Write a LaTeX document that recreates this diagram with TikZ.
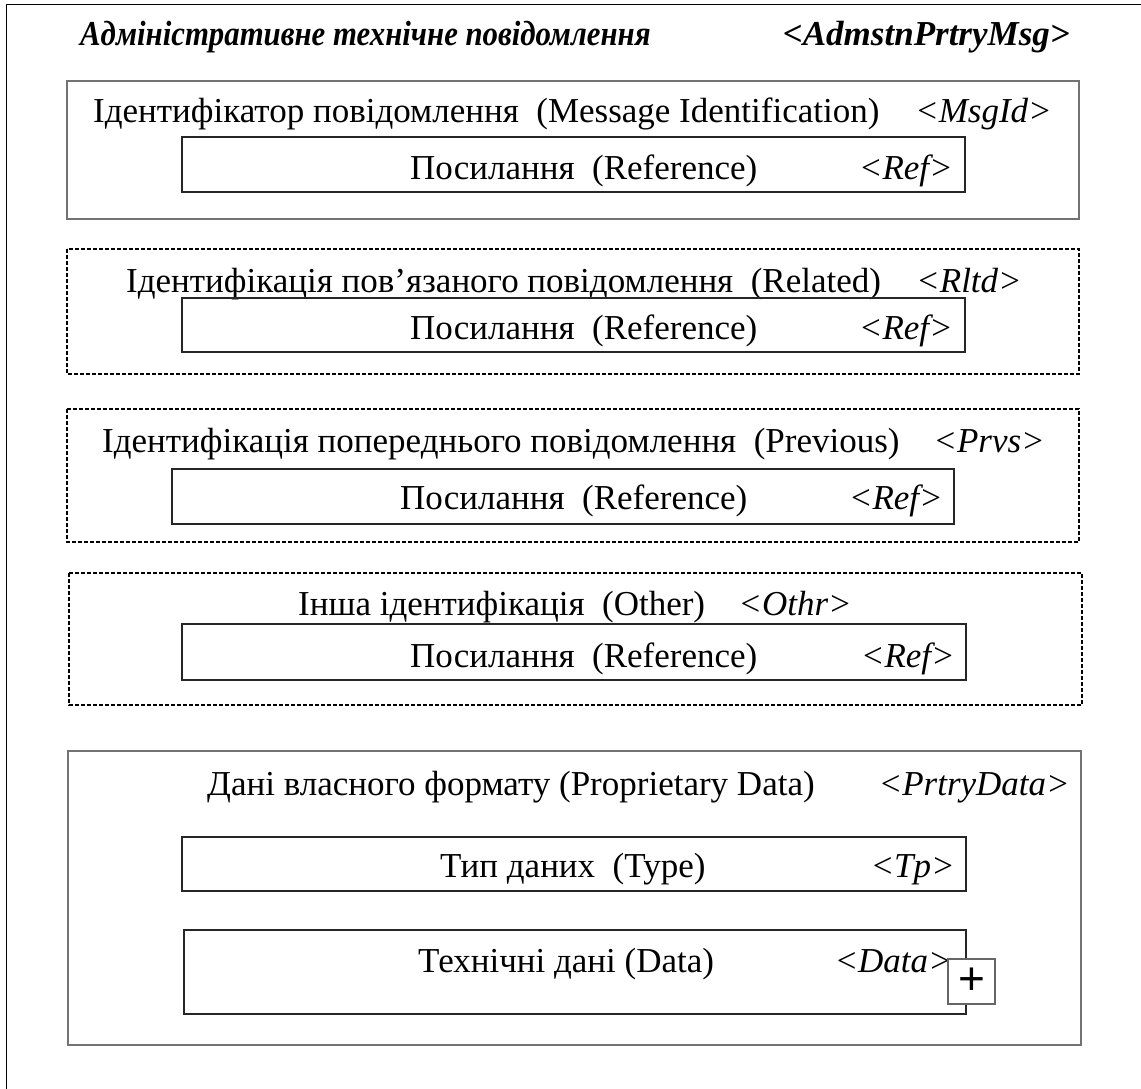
\documentclass[tikz,border=0pt]{standalone}
\usepackage{fontspec}
\setmainfont{Liberation Serif}
\newfontfamily\plusfont{Liberation Sans}
\begin{document}
\begin{tikzpicture}[x=1pt,y=-1pt,
  txt/.style={inner sep=0pt,font=\fontsize{35}{40}\selectfont},
  tag/.style={inner sep=0pt,font=\fontsize{35}{40}\selectfont\itshape},
  ttl/.style={inner sep=0pt,font=\fontsize{35}{40}\selectfont\bfseries\itshape},
  grp/.style={draw=black!55,line width=1.3pt},
  opt/.style={draw=black,line width=1.1pt,dash pattern=on 4pt off 2pt},
  elem/.style={draw=black!85,line width=1.1pt},
  plusbox/.style={draw=black!60,line width=1.1pt,fill=white}]
\useasboundingbox (0,0) rectangle (1141,1089);
\clip (0,0) rectangle (1141,1089);
\fill[white] (0,0) rectangle (1141,1089);
% outer frame
\draw[black,line width=1.2pt] (6.5,4.5) rectangle (1160,1110);
\node[ttl,anchor=base west] (title) at (80,46) {\scalebox{0.88}[1]{Адміністративне технічне повідомлення}};
\node[ttl,anchor=base east] (titletag) at (1070,46) {<AdmstnPrtryMsg>};
% box 1
\draw[grp] (67,81) rectangle (1079,219);
\node[txt,anchor=base west] (h1) at (93,123) {Ідентифікатор повідомлення\ \ (Message Identification)};
\node[tag,anchor=base east] (t1) at (1052,123) {<MsgId>};
\draw[elem] (182,137) rectangle (965,192);
\node[txt,anchor=base west] (r1) at (410,179) {Посилання\ \ (Reference)};
\node[tag,anchor=base east] (rt1) at (953,179) {<Ref>};
% box 2
\draw[opt] (67,249) rectangle (1079,374);
\node[txt,anchor=base west] (h2) at (126,292) {Ідентифікація пов’язаного повідомлення\ \ (Related)};
\node[tag,anchor=base east] (t2) at (1022,292) {<Rltd>};
\draw[elem] (182,298) rectangle (965,352);
\node[txt,anchor=base west] (r2) at (410,339) {Посилання\ \ (Reference)};
\node[tag,anchor=base east] (rt2) at (953,339) {<Ref>};
% box 3
\draw[opt] (67,409) rectangle (1079,542);
\node[txt,anchor=base west] (h3) at (102,452) {Ідентифікація попереднього повідомлення\ \ (Previous)};
\node[tag,anchor=base east] (t3) at (1045,452) {<Prvs>};
\draw[elem] (172,469) rectangle (954,524);
\node[txt,anchor=base west] (r3) at (400,509) {Посилання\ \ (Reference)};
\node[tag,anchor=base east] (rt3) at (943,509) {<Ref>};
% box 4
\draw[opt] (69,573) rectangle (1082,705);
\node[txt,anchor=base west] (h4) at (298,615) {Інша ідентифікація\ \ (Other)};
\node[tag,anchor=base east] (t4) at (852,615) {<Othr>};
\draw[elem] (182,624) rectangle (966,680);
\node[txt,anchor=base west] (r4) at (410,667) {Посилання\ \ (Reference)};
\node[tag,anchor=base east] (rt4) at (955,667) {<Ref>};
% box 5
\draw[grp] (68,751) rectangle (1081,1045);
\node[txt,anchor=base west] (h5) at (207,795) {Дані власного формату (Proprietary Data)};
\node[tag,anchor=base east] (t5) at (1070,795) {<PrtryData>};
\draw[elem] (182,837) rectangle (966,891);
\node[txt,anchor=base west] (r5) at (440,877) {Тип даних\ \ (Type)};
\node[tag,anchor=base east] (rt5) at (955,877) {<Tp>};
\draw[elem] (184,930) rectangle (966,1014);
\node[txt,anchor=base west] (r6) at (418,972) {Технічні дані (Data)};
\node[tag,anchor=base east] (rt6) at (952,972) {<Data>};
\node[plusbox,minimum width=47pt,minimum height=45pt,inner sep=0pt,font=\plusfont\fontsize{46}{48}\selectfont] (plus) at (971.5,981.5) {+};
\end{tikzpicture}
\end{document}
